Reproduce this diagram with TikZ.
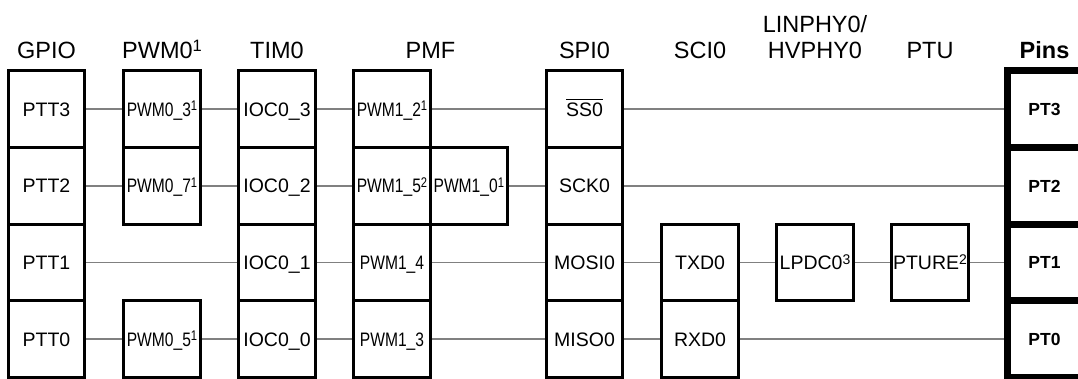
\documentclass[tikz,border=0pt]{standalone}
\usepackage{fontspec}
\setmainfont{Liberation Sans}
\newfontfamily\narrowf[FakeStretch=0.80]{Liberation Sans}
\newcommand\hdsize{\fontsize{23.5}{27}\selectfont}
\newcommand\bxsize{\fontsize{19.5}{23}\selectfont}
\newcommand\supx[1]{\raisebox{5.5pt}{\fontsize{14}{14}\selectfont #1}}
\newcommand\hsupx[1]{\raisebox{7pt}{\fontsize{16.5}{16.5}\selectfont #1}}
\newcommand\ovl[1]{\leavevmode\vbox{\hrule height 1.6pt \kern 2.5pt \hbox{#1}}}
\begin{document}
\begin{tikzpicture}[x=1pt,y=-1pt,
  box/.style={draw,line width=3pt,minimum width=76.6pt,minimum height=76.6pt,
    inner sep=0pt,text height=14pt,text depth=0pt,font=\bxsize},
  nbox/.style={box,font=\bxsize\narrowf},
  pin/.style={draw,line width=7pt,minimum width=75pt,minimum height=76.6pt,
    inner sep=0pt,text height=12.5pt,text depth=0pt,font=\fontsize{17.5}{20}\selectfont\bfseries},
  hd/.style={anchor=base,font=\hdsize,inner sep=0pt},
  link/.style={draw=black!50,line width=1.8pt}]
\useasboundingbox (0,0) rectangle (1078,379);
% headers
\node[hd] (hg) at (46.5,59) {GPIO};
\node[hd] (hp) at (162,59) {PWM0\hsupx{1}};
\node[hd] (ht) at (277,59) {TIM0};
\node[hd] (hm) at (430.4,59) {PMF};
\node[hd] (hs) at (584.5,59) {SPI0};
\node[hd] (hc) at (700,59) {SCI0};
\node[hd] (hl1) at (815,33) {LINPHY0/};
\node[hd] (hl2) at (815,59) {HVPHY0};
\node[hd] (hu) at (930,59) {PTU};
\node[hd,font=\hdsize\bfseries] (hpins) at (1044.5,59) {Pins};
% GPIO
\node[box] (g3) at (46.5,109.3) {PTT3};
\node[box] (g2) at (46.5,185.9) {PTT2};
\node[box] (g1) at (46.5,262.5) {PTT1};
\node[box] (g0) at (46.5,339.1) {PTT0};
% PWM0
\node[nbox] (p3) at (162,109.3) {PWM0\_3\supx{1}};
\node[nbox] (p7) at (162,185.9) {PWM0\_7\supx{1}};
\node[nbox] (p5) at (162,339.1) {PWM0\_5\supx{1}};
% TIM0
\node[box] (t3) at (277,109.3) {IOC0\_3};
\node[box] (t2) at (277,185.9) {IOC0\_2};
\node[box] (t1) at (277,262.5) {IOC0\_1};
\node[box] (t0) at (277,339.1) {IOC0\_0};
% PMF
\node[nbox] (m2) at (392,109.3) {PWM1\_2\supx{1}};
\node[nbox] (m5) at (392,185.9) {PWM1\_5\supx{2}};
\node[nbox] (m0) at (468.8,185.9) {PWM1\_0\supx{1}};
\node[nbox] (m4) at (392,262.5) {PWM1\_4};
\node[nbox] (m3) at (392,339.1) {PWM1\_3};
% SPI0
\node[box] (ss) at (584.5,109.3) {\ovl{SS0}};
\node[box] (sck) at (584.5,185.9) {SCK0};
\node[box] (mosi) at (584.5,262.5) {MOSI0};
\node[box] (miso) at (584.5,339.1) {MISO0};
% SCI0
\node[box] (tx) at (700,262.5) {TXD0};
\node[box] (rx) at (700,339.1) {RXD0};
% LINPHY / PTU
\node[box] (lp) at (815,262.5) {LPDC0\supx{3}};
\node[box] (pu) at (930,262.5) {PTURE\supx{2}};
% Pins
\node[pin] (P3) at (1044.5,109.3) {PT3};
\node[pin] (P2) at (1044.5,185.9) {PT2};
\node[pin] (P1) at (1044.5,262.5) {PT1};
\node[pin] (P0) at (1044.5,339.1) {PT0};
% connectors
\draw[link] (g3) -- (p3) -- (t3) -- (m2) -- (ss) -- (P3);
\draw[link] (g2) -- (p7) -- (t2) -- (m5);
\draw[link] (m0) -- (sck) -- (P2);
\draw[link] (g1) -- (t1) -- (m4) -- (mosi) -- (tx) -- (lp) -- (pu) -- (P1);
\draw[link] (g0) -- (p5) -- (t0) -- (m3) -- (miso) -- (rx) -- (P0);
\end{tikzpicture}
\end{document}
